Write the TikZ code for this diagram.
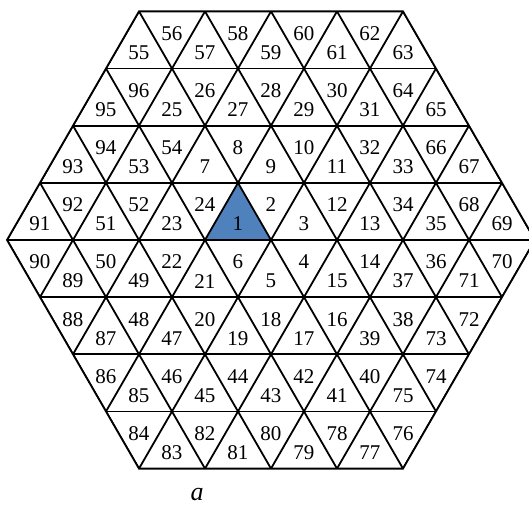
\documentclass[tikz,border=0pt]{standalone}
\usepackage{fontspec}
\setmainfont{Liberation Serif}
\definecolor{cellblue}{HTML}{4F81BD}
\tikzset{
    tri grid/.style = {x=33pt, y=33pt},
    edge/.style     = {line width=0.9pt, line join=miter},
    cell/.style     = {inner sep=0pt, font=\fontsize{10.5}{12}\selectfont},
    marked/.style   = {fill=cellblue},
    caption/.style  = {inner sep=0pt, font=\fontsize{13}{15}\selectfont\itshape}
}
\def\rowheight{0.866}

\begin{document}
\begin{tikzpicture}[tri grid]
\useasboundingbox (-4.106,-4.015) rectangle (3.909,3.636);

% Corners of the hexagon.
\foreach \name/\x/\y in {east/4/0,ne/2/4,nw/-2/4,west/-4/0,sw/-2/-4,se/2/-4}
    \coordinate (\name) at (\x,\y*\rowheight);

% Marked cell.
\fill[marked] (-1,0) -- (0,0) -- (-0.5,\rowheight) -- cycle;

% Grid lines, clipped to the hexagon.
\begin{scope}
    \clip (east) -- (ne) -- (nw) -- (west) -- (sw) -- (se) -- cycle;
    \foreach \k in {-3,...,3}
        \draw[edge] (-5,\k*\rowheight) -- (5,\k*\rowheight);
    \foreach \m in {-8,...,8} {
        \draw[edge] (\m-2.5,-5*\rowheight) -- (\m+2.5,5*\rowheight);
        \draw[edge] (\m+2.5,-5*\rowheight) -- (\m-2.5,5*\rowheight);
    }
\end{scope}
\draw[edge] (east) -- (ne) -- (nw) -- (west) -- (sw) -- (se) -- cycle;

% Cell numbers, row by row from the top (p = 1 when a row starts with a downward cell).
\foreach \r/\p/\labels in {
    0/0/{55,56,57,58,59,60,61,62,63},
    1/0/{95,96,25,26,27,28,29,30,31,64,65},
    2/0/{93,94,53,54,7,8,9,10,11,32,33,66,67},
    3/0/{91,92,51,52,23,24,1,2,3,12,13,34,35,68,69},
    4/1/{90,89,50,49,22,21,6,5,4,15,14,37,36,71,70},
    5/1/{88,87,48,47,20,19,18,17,16,39,38,73,72},
    6/1/{86,85,46,45,44,43,42,41,40,75,74},
    7/1/{84,83,82,81,80,79,78,77,76}} {
    \foreach \lab [count=\idx from 0] in \labels {
        \pgfmathsetmacro\rowleft{ifthenelse(\p==0,-2.5-\r/2,-6+\r/2)}
        \pgfmathsetmacro\cx{\rowleft+0.5+\idx/2}
        \pgfmathsetmacro\cy{(4-\r)*\rowheight
            - ifthenelse(mod(\idx+\p,2)==0,2/3,1/3)*\rowheight - 0.045}
        \node[cell] (cell-\lab) at (\cx,\cy) {\lab};
    }
}

\node[caption] (caption) at (-1.12,-3.86) {a};

\end{tikzpicture}
\end{document}
